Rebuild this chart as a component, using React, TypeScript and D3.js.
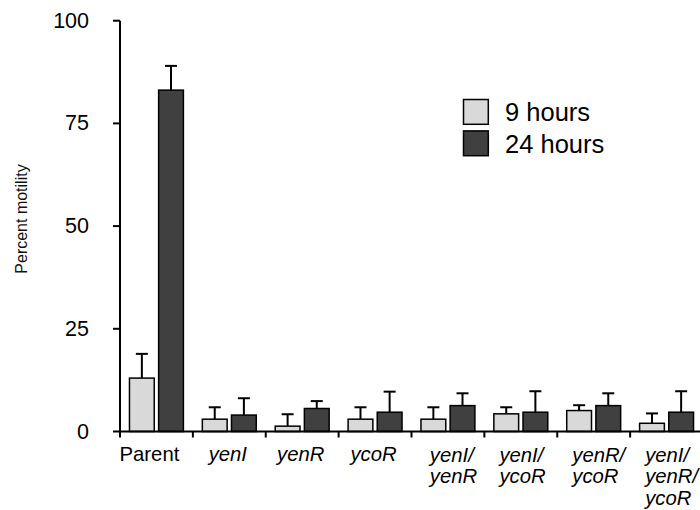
import React from "react";
import * as d3 from "d3";

const categories: string[][] = [
  ["Parent"],
  ["yenI"],
  ["yenR"],
  ["ycoR"],
  ["yenI/", "yenR"],
  ["yenI/", "ycoR"],
  ["yenR/", "ycoR"],
  ["yenI/", "yenR/", "ycoR"],
];
const seriesNames = ["9 hours", "24 hours"];
const values9h = [13, 3, 1.3, 3, 3, 4.3, 5.1, 2];
const err9h = [18.9, 5.9, 4.2, 5.9, 5.9, 5.9, 6.4, 4.4];
const values24h = [83.1, 4, 5.6, 4.7, 6.3, 4.7, 6.3, 4.7];
const err24h = [89, 8.1, 7.4, 9.7, 9.3, 9.8, 9.3, 9.8];
const yTicks = [0, 25, 50, 75, 100];
const colors = ["#d9d9d9", "#404040"];

const FONT = "'Liberation Sans', Arial, Helvetica, sans-serif";

export default function App() {
  const W = 700;
  const H = 510;
  const x0 = 120;
  const x1 = 703;
  const yTop = 20.7;
  const yBot = 431.5;

  const y = d3.scaleLinear().domain([0, 100]).range([yBot, yTop]);
  const xBand = d3
    .scaleBand<number>()
    .domain(categories.map((_, i) => i))
    .range([x0, x1])
    .padding(0);
  const bw = xBand.bandwidth();
  const xInner = d3
    .scaleBand<number>()
    .domain([0, 1])
    .range([bw * 0.13, bw * 0.87])
    .paddingInner(0.15);

  const series = [
    { vals: values9h, errs: err9h },
    { vals: values24h, errs: err24h },
  ];

  const boundaries = categories.map((_, i) => xBand(i) as number);

  return (
    <svg
      width={W}
      height={H}
      style={{ position: "absolute", left: 0, top: 0, background: "#fff" }}
      fontFamily={FONT}
    >
      {/* y axis label */}
      <text
        transform={`translate(27,219) rotate(-90)`}
        textAnchor="middle"
        fontSize={16}
        fill="#111"
      >
        Percent motility
      </text>

      {/* y axis */}
      <line x1={x0} x2={x0} y1={yTop} y2={yBot} stroke="#000" strokeWidth={2} />
      {yTicks.map((t) => (
        <g key={t}>
          <line x1={x0 - 7} x2={x0} y1={y(t)} y2={y(t)} stroke="#000" strokeWidth={2} />
          <text
            x={89}
            y={y(t)}
            textAnchor="end"
            dominantBaseline="central"
            fontSize={21.5}
            fill="#000"
          >
            {t}
          </text>
        </g>
      ))}

      {/* bars */}
      {categories.map((_, i) =>
        series.map((s, k) => {
          const bx = (xBand(i) as number) + (xInner(k) as number);
          const ib = xInner.bandwidth();
          const cx = bx + ib / 2;
          return (
            <g key={`${i}-${k}`}>
              <line
                x1={cx}
                x2={cx}
                y1={y(s.vals[i])}
                y2={y(s.errs[i])}
                stroke="#000"
                strokeWidth={2}
              />
              <line
                x1={cx - 6}
                x2={cx + 6}
                y1={y(s.errs[i])}
                y2={y(s.errs[i])}
                stroke="#000"
                strokeWidth={2}
              />
              <rect
                x={bx}
                y={y(s.vals[i])}
                width={ib}
                height={y(0) - y(s.vals[i])}
                fill={colors[k]}
                stroke="#000"
                strokeWidth={1.5}
              />
            </g>
          );
        })
      )}

      {/* x axis */}
      <line x1={x0} x2={x1} y1={yBot} y2={yBot} stroke="#000" strokeWidth={2} />
      {boundaries.map((b, i) => (
        <line key={i} x1={b} x2={b} y1={yBot} y2={yBot + 6} stroke="#000" strokeWidth={2} />
      ))}

      {/* x labels */}
      {categories.map((lines, i) => {
        const cx = (xBand(i) as number) + bw / 2;
        if (lines.length === 1) {
          return (
            <text
              key={i}
              x={cx - (i === 0 ? 7 : 1.5)}
              y={460.7}
              textAnchor="middle"
              fontSize={20.3}
              fontStyle={i === 0 ? "normal" : "italic"}
              fill="#000"
            >
              {lines[0]}
            </text>
          );
        }
        return (
          <text
            key={i}
            x={(xBand(i) as number) + (i === 4 ? 18.3 : 15)}
            y={461.5}
            fontSize={20.3}
            fontStyle="italic"
            fill="#000"
          >
            {lines.map((l, j) => (
              <tspan key={j} x={(xBand(i) as number) + (i === 4 ? 18.3 : 15)} dy={j === 0 ? 0 : 21.5}>
                {l}
              </tspan>
            ))}
          </text>
        );
      })}

      {/* legend */}
      {seriesNames.map((n, k) => (
        <g key={n}>
          <rect
            x={463.5}
            y={99.5 + k * 31.4}
            width={24.8}
            height={24.8}
            fill={colors[k]}
            stroke="#000"
            strokeWidth={1.5}
          />
          <text x={505} y={121 + k * 31.7} fontSize={25.5} fill="#000">
            {n}
          </text>
        </g>
      ))}
    </svg>
  );
}
